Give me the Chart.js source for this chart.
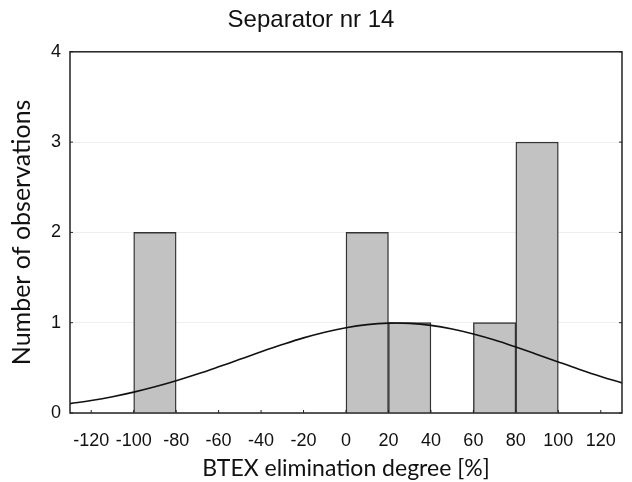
<!DOCTYPE html>
<html>
<head>
<meta charset="utf-8">
<script src="https://cdn.jsdelivr.net/npm/chart.js@4/dist/chart.umd.min.js"></script>
<style>
  body { margin: 0; background: #fff; }
  #wrap { width: 632px; height: 482px; }
</style>
</head>
<body>
<div id="wrap"><canvas id="grafico" width="632" height="482"></canvas></div>
<script>
// histogram bins (centres of 20-wide bins) and counts
var binCenters = [-90, 10, 30, 70, 90];
var counts = [2, 2, 1, 1, 3];

// fitted normal curve
var curveX = [-130, -120, -110, -100, -90, -80, -70, -60, -50, -40, -30, -20, -10, 0,
  10, 20, 30, 40, 50, 60, 70, 80, 90, 100, 110, 120, 130];
var curveY = [0.104, 0.138, 0.180, 0.231, 0.290, 0.357, 0.431, 0.511, 0.594, 0.678, 0.758, 0.832, 0.895, 0.945,
  0.979, 0.995, 0.992, 0.970, 0.930, 0.875, 0.808, 0.731, 0.649, 0.565, 0.483, 0.405, 0.333];

var xTicks = [-120, -100, -80, -60, -40, -20, 0, 20, 40, 60, 80, 100, 120];
var yTicks = [0, 1, 2, 3, 4];

// box round the plot + small inward tick marks
var frame = {
  id: 'frame',
  afterDraw: function(chart) {
    var a = chart.chartArea, c = chart.ctx;
    var sx = chart.scales.x, sy = chart.scales.y;
    c.save();
    c.strokeStyle = '#222';
    c.lineWidth = 1.5;
    c.strokeRect(a.left, a.top, a.right - a.left, a.bottom - a.top);
    c.lineWidth = 1;
    c.beginPath();
    xTicks.forEach(function(v) {
      var px = sx.getPixelForValue(v);
      c.moveTo(px, a.bottom);
      c.lineTo(px, a.bottom - 3);
    });
    yTicks.forEach(function(v) {
      var py = sy.getPixelForValue(v);
      c.moveTo(a.left, py);
      c.lineTo(a.left + 3, py);
      c.moveTo(a.right, py);
      c.lineTo(a.right - 3, py);
    });
    c.stroke();
    c.restore();
  }
};

const ctx = document.getElementById('grafico').getContext('2d');

new Chart(ctx, {
  type: 'bar',
  data: {
    datasets: [
      {
        type: 'line',
        data: curveX.map(function(x, i) { return { x: x, y: curveY[i] }; }),
        borderColor: '#111',
        borderWidth: 1.6,
        pointRadius: 0,
        tension: 0.4,
        fill: false,
        order: 0
      },
      {
        data: binCenters.map(function(x, i) { return { x: x, y: counts[i] }; }),
        backgroundColor: '#c2c2c2',
        borderColor: '#333',
        borderWidth: 1.4,
        barPercentage: 1,
        categoryPercentage: 1,
        order: 1
      }
    ]
  },
  options: {
    responsive: false,
    animation: false,
    layout: { padding: { left: 0, right: 10, top: 0, bottom: 0 } },
    scales: {
      x: {
        type: 'linear',
        offset: false,
        min: -130,
        max: 130,
        afterBuildTicks: function(axis) { axis.ticks = xTicks.map(function(v) { return { value: v }; }); },
        afterFit: function(axis) { axis.height = 69; },
        grid: { display: false, offset: false },
        border: { display: false },
        ticks: { color: '#111', font: { family: 'Liberation Sans', size: 18 }, padding: 9, maxRotation: 0 },
        title: { display: true, text: 'BTEX elimination degree [%]', color: '#111',
          font: { family: 'Lato', size: 23 }, padding: { top: 0, bottom: 0 } }
      },
      y: {
        min: 0,
        max: 4,
        afterBuildTicks: function(axis) { axis.ticks = yTicks.map(function(v) { return { value: v }; }); },
        afterFit: function(axis) { axis.width = 70; },
        grid: { color: '#efefef', drawTicks: false },
        border: { display: false },
        ticks: { color: '#111', font: { family: 'Liberation Sans', size: 18 }, padding: 9 },
        title: { display: true, text: 'Number of observations', color: '#111',
          font: { family: 'Lato', size: 25 }, padding: { top: 7, bottom: 0 } }
      }
    },
    plugins: {
      legend: { display: false },
      tooltip: { enabled: false },
      title: {
        display: true,
        text: 'Separator nr 14',
        color: '#111',
        font: { family: 'Liberation Sans', size: 24, weight: 'normal' },
        padding: { top: 6, bottom: 17 }
      }
    }
  },
  plugins: [frame]
});
</script>
</body>
</html>
